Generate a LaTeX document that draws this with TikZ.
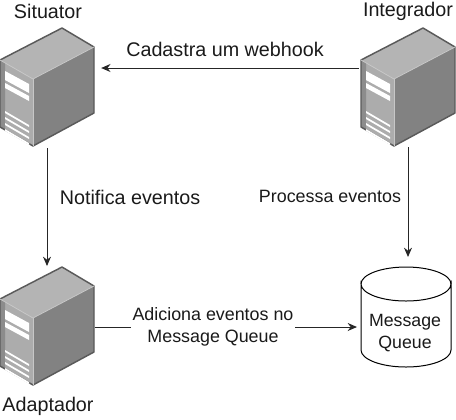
\documentclass[tikz,border=0pt]{standalone}
\usepackage{fontspec}
\setmainfont{Liberation Sans}
\usetikzlibrary{arrows.meta}
\definecolor{srvtop}{RGB}{180,180,180}
\definecolor{srvright}{RGB}{130,130,130}
\definecolor{srvfront}{RGB}{172,172,172}
\definecolor{srvstrip}{RGB}{140,140,140}
\definecolor{srvedge}{RGB}{90,90,90}
\definecolor{txt}{RGB}{26,26,26}
\tikzset{
  x=0.75pt,y=-0.75pt,
  lbl/.style={font=\fontsize{14.8}{17}\selectfont,text=txt,inner sep=1pt,align=center},
  lblsm/.style={font=\fontsize{13.4}{16.5}\selectfont,text=txt,inner sep=1pt,align=center,fill=white},
  lblmq/.style={font=\fontsize{13.3}{16.5}\selectfont,text=txt,inner sep=1pt,align=center},
  conn/.style={draw=black!85,line width=0.75pt,-{Stealth[length=7pt,width=6pt]}},
  srvbox/.style={minimum width=71.25pt,minimum height=88.5pt,inner sep=0pt,outer sep=0pt},
  pics/server/.style={code={
    \fill[srvtop] (0,32) -- (62,0) -- (94,19) -- (33,51) -- cycle;
    \fill[srvright] (33,51) -- (94,19) -- (94,85) -- (33,118) -- cycle;
    \fill[srvfront] (0,32) -- (33,51) -- (33,118) -- (0,99) -- cycle;
    \fill[srvstrip] (0,32) -- (5,35) -- (5,102) -- (0,99) -- cycle;
    \draw[srvedge,line width=1.1pt,line join=round] (0,32) -- (62,0) -- (94,19) -- (94,85) -- (33,118) -- (0,99) -- cycle;
    \draw[white!78!black,line width=0.6pt] (0,32) -- (33,51) -- (94,19);
    \draw[white!78!black,line width=0.6pt] (33,51) -- (33,118);
    \fill[white] (5,43) -- (29,56) -- (29,65) -- (5,52) -- cycle;
    \fill[white] (5,55) -- (29,68) -- (29,73) -- (5,60) -- cycle;
    \foreach \d in {0,6,12,18}{
      \fill[white] (5,83+\d) -- (29,97+\d) -- (29,99+\d) -- (5,85+\d) -- cycle;
    }
  }}
}
\begin{document}
\begin{tikzpicture}
\useasboundingbox (0,0) rectangle (456,419);
\path (47,87) node[srvbox] (situator) {};
\path (408,87) node[srvbox] (integrador) {};
\path (47,325) node[srvbox] (adaptador) {};
\path (406,317) node[minimum width=67.5pt,minimum height=75pt,inner sep=0pt,outer sep=0pt] (mq) {};
\path (0,28) pic {server};
\path (361,28) pic {server};
\path (0,267) pic {server};
% cylinder
\draw[black,line width=0.75pt,fill=white] (361,284) arc[start angle=180,end angle=0,x radius=45,y radius=17] -- (451,350) arc[start angle=0,end angle=180,x radius=45,y radius=17] -- cycle;
\draw[black,line width=0.75pt] (361,284) arc[start angle=180,end angle=360,x radius=45,y radius=17];
\node[lblmq] at (405,333) {Message\\Queue};
\node[lbl] (tsit) at (48,11) {Situator};
\node[lbl] (tint) at (408,11) {Integrador};
\node[lbl] (tada) at (48,406) {Adaptador};
\draw[conn,shorten >=5pt,shorten <=1.5pt] (integrador.west|-0,68) -- (situator.east|-0,68);
\draw[conn,shorten <=1.5pt] (situator.south) -- (adaptador.north);
\draw[conn,shorten <=1pt,shorten >=7.5pt] (integrador.south) -- (integrador.south|-mq.north);
\draw[conn,shorten >=3pt] (adaptador.east|-0,327) -- (mq.west|-0,327);
\node[lbl] (l1) at (225,49) {Cadastra um webhook};
\node[lbl] (l2) at (130,197) {Notifica eventos};
\node[lblsm] (l3) at (330,196) {Processa eventos};
\node[lblsm] (l4) at (213,327) {Adiciona eventos no\\Message Queue};
\end{tikzpicture}
\end{document}
